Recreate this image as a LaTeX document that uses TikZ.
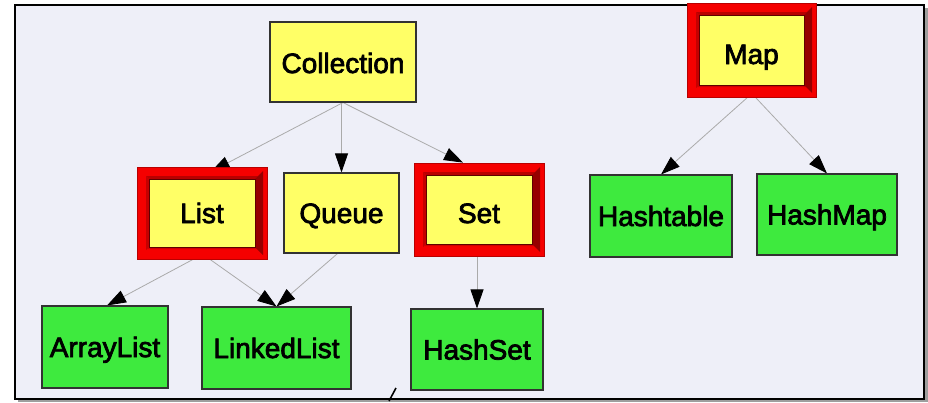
\documentclass[tikz,border=0pt]{standalone}
\usepackage{fontspec}
\usetikzlibrary{arrows.meta,calc}
\newfontfamily\lblfont[FakeBold=2.6]{Liberation Sans}

\definecolor{panelbg}{RGB}{238,239,248}
\definecolor{boxyellow}{RGB}{255,255,102}
\definecolor{boxgreen}{RGB}{62,234,62}
\definecolor{boxedge}{RGB}{50,50,50}
\definecolor{edgegray}{RGB}{170,170,170}
\definecolor{framered}{RGB}{245,0,0}
\definecolor{framedark}{RGB}{150,0,0}
\definecolor{framemid}{RGB}{185,0,0}
\definecolor{frameline}{RGB}{95,0,0}

\pgfdeclarelayer{panel}
\pgfdeclarelayer{links}
\pgfsetlayers{panel,links,main}

\tikzset{
  lbl/.style={font=\lblfont\fontsize{28}{30}\selectfont, text=black,
    inner sep=0pt, text height=20pt, text depth=0pt},
  plainbox/.style={lbl, draw=boxedge, line width=1.1pt},
  ybox/.style={plainbox, fill=boxyellow},
  gbox/.style={plainbox, fill=boxgreen},
  redbox/.style={lbl, fill=framered, draw=framemid, line width=0.8pt,
    path picture={
      \coordinate (sw) at (path picture bounding box.south west);
      \coordinate (ne) at (path picture bounding box.north east);
      \coordinate (se) at (sw -| ne);
      \coordinate (nw) at (sw |- ne);
      % top and left inner edge of the bevel
      \fill[framemid] ($(nw)+(9pt,-9pt)$) -- ($(ne)+(-9pt,-9pt)$) -- ($(ne)+(-12pt,-12pt)$) -- ($(nw)+(12pt,-12pt)$) -- cycle;
      \fill[framemid!80!framered] ($(sw)+(9pt,9pt)$) -- ($(nw)+(9pt,-9pt)$) -- ($(nw)+(12pt,-12pt)$) -- ($(sw)+(12pt,12pt)$) -- cycle;
      \fill[framemid!60!framered] ($(sw)+(10pt,10pt)$) -- ($(se)+(-10pt,10pt)$) -- ($(se)+(-12pt,12pt)$) -- ($(sw)+(12pt,12pt)$) -- cycle;
      % shaded right side
      \fill[framedark] ($(se)+(-4pt,4pt)$) -- ($(ne)+(-4pt,-4pt)$) -- ($(ne)+(-12pt,-12pt)$) -- ($(se)+(-12pt,12pt)$) -- cycle;
      % yellow panel inside the frame
      \filldraw[fill=boxyellow, draw=frameline, line width=0.8pt] ($(sw)+(12pt,12pt)$) rectangle ($(ne)+(-12pt,-12pt)$);
    }},
  link/.style={draw=edgegray, line width=0.8pt, -{Triangle[length=19pt,width=13pt,color=black]}}
}

\begin{document}
\begin{tikzpicture}[x=1pt,y=-1pt]
\useasboundingbox (0,0) rectangle (928,402);

% panel with its drop shadow
\begin{pgfonlayer}{panel}
  \fill[white] (0,0) rectangle (928,402);
  \fill[black!38] (18,8) rectangle (928,402);
  \filldraw[fill=panelbg, draw=black, line width=2pt] (15,5) rectangle (924,399);
  \draw[line width=1.6pt] (389,401) -- (396,388);
\end{pgfonlayer}

% class boxes
\node[ybox, minimum width=146pt, minimum height=80pt, text height=22pt] (Collection) at (343,62) {Collection};
\node[ybox, minimum width=115pt, minimum height=80pt] (Queue) at (341.5,213) {Queue};
\node[redbox, minimum width=130pt, minimum height=92pt] (List) at (202,213) {List};
\node[redbox, minimum width=130pt, minimum height=93pt, text height=27pt] (Set) at (479,209.5) {Set};
\node[redbox, minimum width=129pt, minimum height=94pt, text height=28pt] (Map) at (751.5,50) {Map};
\node[gbox, minimum width=126pt, minimum height=82pt] (ArrayList) at (105,347) {ArrayList};
\node[gbox, minimum width=149pt, minimum height=82pt] (LinkedList) at (276.5,348) {LinkedList};
\node[gbox, minimum width=132pt, minimum height=81pt] (HashSet) at (477,349.5) {HashSet};
\node[gbox, minimum width=142pt, minimum height=82pt] (Hashtable) at (661,216) {Hashtable};
\node[gbox, minimum width=140pt, minimum height=81pt] (HashMap) at (827,214.5) {HashMap};

% inheritance links
\begin{pgfonlayer}{links}
  \draw[link] (Collection.south) -- ([xshift=9pt,yshift=-5pt]List.north);
  \draw[link] (Queue.north |- Collection.south) -- (Queue.north);
  \draw[link] (Collection.south) -- ([xshift=-16pt]Set.north);
  \draw[link] ([xshift=-9pt]List.south) -- ([xshift=2pt]ArrayList.north);
  \draw[link] ([xshift=8pt]List.south) -- (LinkedList.north);
  \draw[link] ([xshift=-4pt]Queue.south) -- (LinkedList.north);
  \draw[link] (HashSet.north |- Set.south) -- (HashSet.north);
  \draw[link] ([xshift=-4pt]Map.south) -- (Hashtable.north);
  \draw[link] ([xshift=4pt]Map.south) -- (HashMap.north);
\end{pgfonlayer}
\end{tikzpicture}
\end{document}
